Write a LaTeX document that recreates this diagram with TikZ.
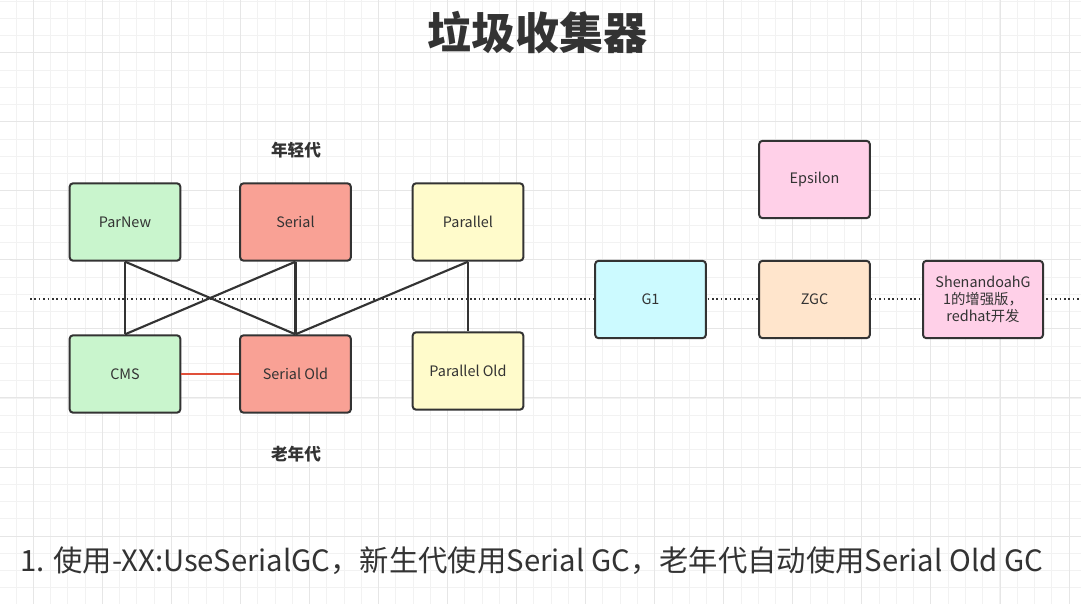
\documentclass[tikz,border=0pt]{standalone}
\usepackage{fontspec}
\setmainfont{Noto Sans CJK SC}
\definecolor{edge}{HTML}{333333}
\definecolor{txt}{HTML}{333333}
\definecolor{gfill}{HTML}{C9F5CD}
\definecolor{rfill}{HTML}{F9A195}
\definecolor{yfill}{HTML}{FFFBCB}
\definecolor{pfill}{HTML}{FFD0E8}
\definecolor{cfill}{HTML}{CCFAFF}
\definecolor{ofill}{HTML}{FFE5CC}
\definecolor{redline}{HTML}{E0503A}
\definecolor{gridminor}{HTML}{F2F2F2}
\definecolor{gridmajor}{HTML}{E6E6E6}
\tikzset{
  gcbox/.style={draw=edge, line width=1.5pt, rounded corners=2.5pt, minimum width=83pt, minimum height=58pt, inner sep=1pt, font=\fontsize{10.8pt}{12.8pt}\selectfont, text=txt, align=center},
  link/.style={draw=edge, line width=1.6pt},
  genlabel/.style={font=\bfseries\fontsize{12.5pt}{14pt}\selectfont, text=txt}
}
\begin{document}
\begin{tikzpicture}[x=0.75pt, y=-0.75pt]
\useasboundingbox (0,0) rectangle (1081,604);
\fill[white] (0,0) rectangle (1081,604);
% grid
\foreach \i in {-1,...,62} {
  \draw[gridminor, line width=0.6pt] ({33.3+17.26*\i},0) -- ({33.3+17.26*\i},604);
}
\foreach \i in {-3,...,32} {
  \draw[gridminor, line width=0.6pt] (0,{52.7+17.26*\i}) -- (1081,{52.7+17.26*\i});
}
\foreach \i in {0,...,15} {
  \draw[gridmajor, line width=0.7pt] ({33.3+69.05*\i},0) -- ({33.3+69.05*\i},604);
}
\foreach \i in {-1,...,8} {
  \draw[gridmajor, line width=0.7pt] (0,{52.7+69.05*\i}) -- (1081,{52.7+69.05*\i});
}
% title
\node[font=\bfseries\fontsize{33pt}{36pt}\selectfont, text=txt] (title) at (537,33) {垃圾收集器};
% dotted line
\coordinate (dl) at (30,299);
\coordinate (dr) at (1081,299);
\draw[edge, line width=1.6pt, dash pattern=on 1.2pt off 2.1pt] (dl) -- (dr);
% boxes
\node[gcbox, fill=gfill] (parnew) at (125,222) {ParNew};
\node[gcbox, fill=rfill] (serial) at (295.5,222) {Serial};
\node[gcbox, fill=yfill] (parallel) at (468,222) {Parallel};
\node[gcbox, fill=gfill] (cms) at (125,374) {CMS};
\node[gcbox, fill=rfill] (serialold) at (295.5,374) {Serial Old};
\node[gcbox, fill=yfill] (parallelold) at (468,371) {Parallel Old};
\node[gcbox, fill=pfill] (epsilon) at (814.5,179.5) {Epsilon};
\node[gcbox, fill=cfill] (g1) at (650.5,299.5) {G1};
\node[gcbox, fill=ofill] (zgc) at (814.5,299.5) {ZGC};
\node[gcbox, fill=pfill, minimum width=90pt] (shen) at (983,299.5) {ShenandoahG\\1的增强版，\\redhat开发};
% links
\draw[link] (parnew.south) -- (cms.north);
\draw[link] (parnew.south) -- (serialold.north);
\draw[link] (serial.south) -- (cms.north);
\draw[link] (serial.south) -- (serialold.north);
\draw[link] (parallel.south) -- (serialold.north);
\draw[link] (parallel.south) -- (parallelold.north);
\draw[redline, line width=1.6pt] (cms.east) -- (serialold.west);
% labels
\node[genlabel] (young) at (296,150) {年轻代};
\node[genlabel] (old) at (296,454) {老年代};
% bottom text
\node[anchor=west, inner sep=0pt, font=\fontsize{22pt}{26pt}\selectfont, text=txt] (note) at (20,561) {1. 使用-XX:UseSerialGC，新生代使用Serial GC，老年代自动使用Serial Old GC};
\end{tikzpicture}
\end{document}
